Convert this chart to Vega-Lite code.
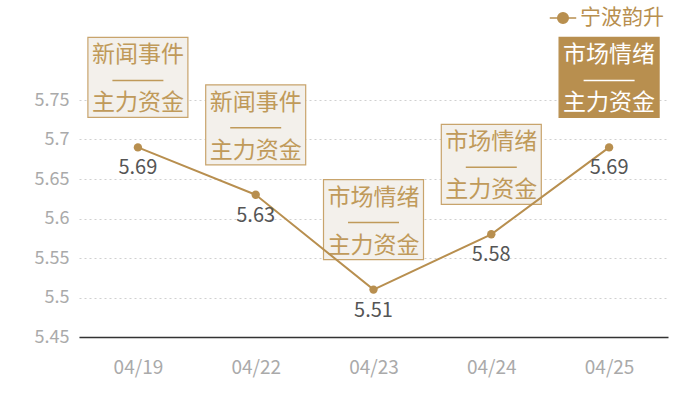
{
  "$schema": "https://vega.github.io/schema/vega-lite/v6.json",
  "width": 589,
  "height": 237,
  "autosize": {"type": "none"},
  "padding": {"left": 79, "top": 100, "right": 32, "bottom": 63},
  "background": "#ffffff",
  "config": {
    "view": {"stroke": null},
    "font": "Noto Sans CJK SC"
  },
  "data": {
    "values": [
      {"date": "04/19", "price": 5.69, "tag": "新闻事件", "hot": false, "series": "宁波韵升"},
      {"date": "04/22", "price": 5.63, "tag": "新闻事件", "hot": false, "series": "宁波韵升"},
      {"date": "04/23", "price": 5.51, "tag": "市场情绪", "hot": false, "series": "宁波韵升"},
      {"date": "04/24", "price": 5.58, "tag": "市场情绪", "hot": false, "series": "宁波韵升"},
      {"date": "04/25", "price": 5.69, "tag": "市场情绪", "hot": true, "series": "宁波韵升"}
    ]
  },
  "encoding": {
    "x": {
      "field": "date",
      "type": "ordinal",
      "scale": {"type": "point", "padding": 0.5},
      "axis": {
        "title": null,
        "labelAngle": 0,
        "labelColor": "#aaaaaa",
        "labelFontSize": 19,
        "labelPadding": 21,
        "ticks": false,
        "domainColor": "#333333",
        "domainWidth": 1.5,
        "grid": false
      }
    },
    "y": {
      "field": "price",
      "type": "quantitative",
      "scale": {"domain": [5.45, 5.75], "zero": false, "nice": false},
      "axis": {
        "title": null,
        "values": [5.45, 5.5, 5.55, 5.6, 5.65, 5.7, 5.75],
        "format": ".2~f",
        "labelColor": "#aaaaaa",
        "labelFontSize": 18,
        "labelPadding": 10,
        "ticks": false,
        "domain": false,
        "gridColor": "#d0d0d0",
        "gridDash": [2, 3],
        "gridWidth": 1
      }
    }
  },
  "layer": [
    {
      "mark": {
        "type": "point",
        "shape": "M-1,-2.2L1,-2.2L1,-0.6L-1,-0.6Z",
        "size": 10000,
        "filled": true,
        "strokeWidth": 1.2,
        "opacity": 1
      },
      "encoding": {
        "fill": {"condition": {"test": "datum.hot", "value": "#b88f4f"}, "value": "#f3f0eb"},
        "stroke": {"condition": {"test": "datum.hot", "value": "#b88f4f"}, "value": "#c8a46c"}
      }
    },
    {
      "mark": {
        "type": "point",
        "shape": "M-0.51,-1.355L0.51,-1.355L0.51,-1.325L-0.51,-1.325Z",
        "size": 10000,
        "filled": true,
        "strokeWidth": 0,
        "opacity": 1
      },
      "encoding": {
        "fill": {"condition": {"test": "datum.hot", "value": "#ffffff"}, "value": "#c09a5a"}
      }
    },
    {
      "mark": {
        "type": "text",
        "fontSize": 23,
        "lineHeight": 48,
        "baseline": "middle",
        "align": "center",
        "dy": -92
      },
      "encoding": {
        "text": {"field": "label"},
        "color": {"condition": {"test": "datum.hot", "value": "#ffffff"}, "value": "#c09a5a"}
      },
      "transform": [{"calculate": "[datum.tag, '主力资金']", "as": "label"}]
    },
    {
      "mark": {"type": "line", "color": "#b88f4f", "strokeWidth": 2},
      "encoding": {
        "color": {
          "field": "series",
          "type": "nominal",
          "scale": {"range": ["#b88f4f"]},
          "legend": {
            "title": null,
            "orient": "none",
            "legendX": 470,
            "legendY": -96,
            "symbolType": "M-1,0L-0.45,0M0.45,0L1,0M-0.4,0A0.4,0.4 0 1,0 0.4,0A0.4,0.4 0 1,0 -0.4,0",
            "symbolSize": 700,
            "symbolStrokeWidth": 1.5,
            "symbolStrokeColor": "#c9a878",
            "symbolFillColor": "#b88f4f",
            "labelFontSize": 21,
            "labelColor": "#b88f4f",
            "labelFont": "Noto Sans CJK SC",
            "labelOffset": 3
          }
        }
      }
    },
    {
      "mark": {"type": "circle", "size": 70, "color": "#b88f4f", "opacity": 1}
    },
    {
      "mark": {"type": "text", "fontSize": 20, "color": "#555555", "dy": 21, "baseline": "middle"},
      "encoding": {"text": {"field": "price", "format": ".2f"}}
    }
  ]
}
